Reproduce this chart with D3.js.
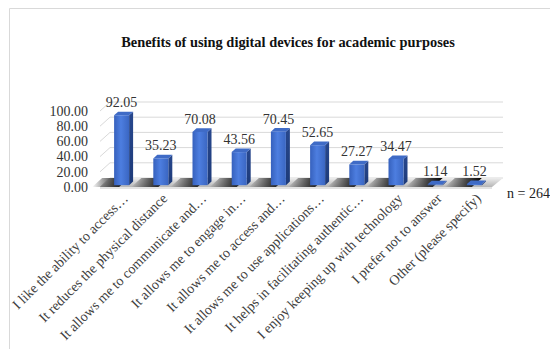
<!DOCTYPE html>
<html>
<head>
<meta charset="utf-8">
<script src="https://cdn.jsdelivr.net/npm/d3@7"></script>
<style>
  html, body { margin: 0; padding: 0; background: #fff; }
  svg { display: block; }
</style>
</head>
<body>
<svg id="chart" width="550" height="349"></svg>
<script>
// Survey responses (percent of respondents)
const categories = [
  "I like the ability to access…",
  "It reduces the physical distance",
  "It allows me to communicate and…",
  "It allows me to engage in…",
  "It allows me to access and…",
  "It allows me to use applications…",
  "It helps in facilitating authentic…",
  "I enjoy keeping up with technology",
  "I prefer not to answer",
  "Other (please specify)"
];
const percentages = [92.05, 35.23, 70.08, 43.56, 70.45, 52.65, 27.27, 34.47, 1.14, 1.52];
const yTicks = [0, 20, 40, 60, 80, 100];
const chartTitle = "Benefits of using digital devices for academic purposes";
const sampleNote = "n = 264";

const svg = d3.select("#chart");
const serif = "'Liberation Serif', 'Times New Roman', serif";

// Outer frame
svg.append("path")
  .attr("d", "M9.5,360 L9.5,8.5 L560,8.5")
  .attr("fill", "none").attr("stroke", "#d9d9d9").attr("stroke-width", 1);

// Title
svg.append("text")
  .attr("x", 288).attr("y", 47)
  .attr("text-anchor", "middle")
  .attr("font-family", serif).attr("font-weight", "bold").attr("font-size", 14.4)
  .attr("fill", "#111")
  .text(chartTitle);

// 3D geometry: front plane of the floor and depth vector
const floorLeft = 100, floorRight = 492, floorFront = 187;
const depth = { dx: 10, dy: -9 };

const y = d3.scaleLinear().domain([0, 100]).range([floorFront, floorFront - 76]);
const x = d3.scalePoint().domain(categories).range([102, 494]).padding(0.5);
const barW = 15;
const t0 = 0.2, t1 = 0.6; // bar front / back depth fractions

const defs = svg.append("defs");
const frontGrad = defs.append("linearGradient").attr("id", "barFront")
  .attr("x1", "0").attr("x2", "1").attr("y1", "0").attr("y2", "0");
frontGrad.append("stop").attr("offset", "0").attr("stop-color", "#3661bd");
frontGrad.append("stop").attr("offset", "0.45").attr("stop-color", "#4d7ee0");
frontGrad.append("stop").attr("offset", "1").attr("stop-color", "#3a66c2");

const sideGrad = defs.append("linearGradient").attr("id", "barSide")
  .attr("x1", "0").attr("x2", "0").attr("y1", "0").attr("y2", "1");
sideGrad.append("stop").attr("offset", "0").attr("stop-color", "#28488e");
sideGrad.append("stop").attr("offset", "1").attr("stop-color", "#1d3a78");

const floorGrad = defs.append("linearGradient").attr("id", "floorFill")
  .attr("x1", "0").attr("x2", "0").attr("y1", "0").attr("y2", "1");
floorGrad.append("stop").attr("offset", "0").attr("stop-color", "#ededed");
floorGrad.append("stop").attr("offset", "1").attr("stop-color", "#b5b5b5");

const shadowGrad = defs.append("linearGradient").attr("id", "shadow")
  .attr("x1", "0").attr("x2", "1").attr("y1", "0").attr("y2", "0");
shadowGrad.append("stop").attr("offset", "0").attr("stop-color", "#000").attr("stop-opacity", 0);
shadowGrad.append("stop").attr("offset", "0.6").attr("stop-color", "#1a1a1a").attr("stop-opacity", 0.8);
shadowGrad.append("stop").attr("offset", "1").attr("stop-color", "#000").attr("stop-opacity", 1);

// Back wall gridlines with perspective side segment
const grid = svg.append("g");
yTicks.forEach(v => {
  const yy = y(v);
  grid.append("path")
    .attr("d", `M${floorLeft},${yy} L${floorLeft + depth.dx},${yy + depth.dy} L${floorRight + depth.dx + 1},${yy + depth.dy}`)
    .attr("fill", "none").attr("stroke", "#d9d9d9").attr("stroke-width", 1);
});

// Floor
const floorPts = [
  [floorLeft, floorFront],
  [floorRight, floorFront],
  [floorRight + depth.dx + 1, floorFront + depth.dy],
  [floorLeft + depth.dx, floorFront + depth.dy]
];
svg.append("polygon")
  .attr("points", floorPts.map(p => p.join(",")).join(" "))
  .attr("fill", "url(#floorFill)");
svg.append("rect")
  .attr("x", floorLeft).attr("y", floorFront).attr("width", floorRight - floorLeft).attr("height", 2)
  .attr("fill", "#e3e3e3");

// Bar shadows on the floor
const shadows = svg.append("g");
categories.forEach(c => {
  const left = x(c) - barW / 2;
  const sx0 = left - 22, sx1 = left + 5;
  shadows.append("polygon")
    .attr("points", [
      [sx0, floorFront], [sx1, floorFront],
      [sx1 + depth.dx, floorFront + depth.dy], [sx0 + depth.dx, floorFront + depth.dy]
    ].map(p => p.join(",")).join(" "))
    .attr("fill", "url(#shadow)");
});

// Bars
const bars = svg.append("g");
categories.forEach((c, i) => {
  const v = percentages[i];
  const fx = x(c) - barW / 2;           // front face left
  const fyBase = y(0) + depth.dy * t0;  // front face bottom
  const fyTop = y(v) + depth.dy * t0;   // front face top
  const ddx = depth.dx * (t1 - t0), ddy = depth.dy * (t1 - t0);
  // side face
  bars.append("polygon")
    .attr("points", [
      [fx + barW, fyBase], [fx + barW, fyTop],
      [fx + barW + ddx, fyTop + ddy], [fx + barW + ddx, fyBase + ddy]
    ].map(p => p.join(",")).join(" "))
    .attr("fill", "url(#barSide)");
  // top face
  bars.append("polygon")
    .attr("points", [
      [fx, fyTop], [fx + barW, fyTop],
      [fx + barW + ddx, fyTop + ddy], [fx + ddx, fyTop + ddy]
    ].map(p => p.join(",")).join(" "))
    .attr("fill", "#3f6bc6");
  // front face
  bars.append("rect")
    .attr("x", fx).attr("y", fyTop)
    .attr("width", barW).attr("height", Math.max(0, fyBase - fyTop))
    .attr("fill", "url(#barFront)");
  // value label
  bars.append("text")
    .attr("x", x(c)).attr("y", fyTop - 8)
    .attr("text-anchor", "middle")
    .attr("font-family", serif).attr("font-size", 14)
    .attr("fill", "#333")
    .text(d3.format(".2f")(v));
});

// Y axis tick labels
svg.append("g").selectAll("text").data(yTicks).join("text")
  .attr("x", 88).attr("y", d => y(d) + 1.5)
  .attr("text-anchor", "end").attr("dominant-baseline", "middle")
  .attr("font-family", serif).attr("font-size", 14)
  .attr("fill", "#333")
  .text(d => d3.format(".2f")(d));

// Category labels, rotated
svg.append("g").selectAll("text").data(categories).join("text")
  .attr("transform", d => `translate(${x(d) + 5},${197}) rotate(-45)`)
  .attr("text-anchor", "end").attr("dominant-baseline", "middle")
  .attr("font-family", serif).attr("font-size", 14)
  .attr("fill", "#404040")
  .text(d => d);

// Sample size note
svg.append("text")
  .attr("x", 507).attr("y", 198)
  .attr("font-family", serif).attr("font-size", 14)
  .attr("fill", "#222")
  .text(sampleNote);
</script>
</body>
</html>
